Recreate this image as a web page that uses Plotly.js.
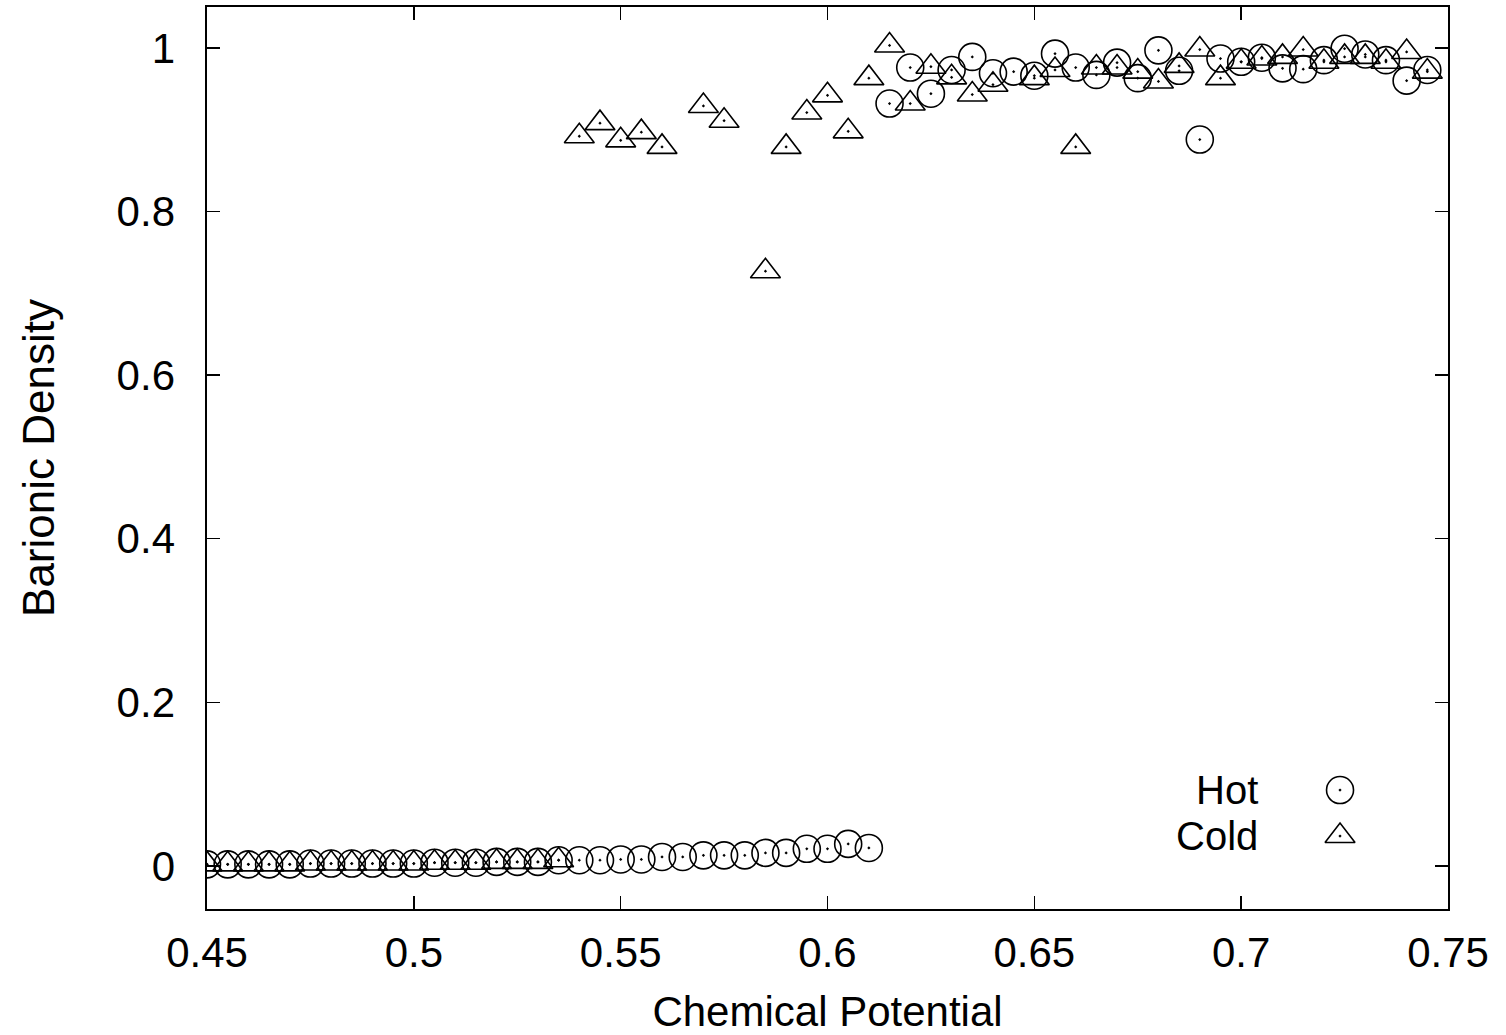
<!DOCTYPE html>
<html>
<head>
<meta charset="utf-8">
<script src="https://cdn.plot.ly/plotly-3.0.1.min.js"></script>
<style>html,body{margin:0;padding:0;background:#fff;}#chart{width:1506px;height:1035px;}</style>
</head>
<body>
<div id="chart"></div>
<script>
// Chemical potential values (x)
const hotX = [0.45,0.455,0.46,0.465,0.47,0.475,0.48,0.485,0.49,0.495,0.5,0.505,0.51,0.515,0.52,0.525,0.53,0.535,0.54,0.545,0.55,0.555,0.56,0.565,0.57,0.575,0.58,0.585,0.59,0.595,0.6,0.605,0.61,
  0.615,0.62,0.625,0.63,0.635,0.64,0.645,0.65,0.655,0.66,0.665,0.67,0.675,0.68,0.685,0.69,0.695,0.7,0.705,0.71,0.715,0.72,0.725,0.73,0.735,0.74,0.745];
const hotY = [0.002,0.002,0.002,0.002,0.002,0.003,0.003,0.003,0.003,0.003,0.003,0.004,0.004,0.004,0.005,0.005,0.005,0.007,0.007,0.007,0.008,0.008,0.011,0.011,0.013,0.013,0.013,0.016,0.016,0.021,0.021,0.027,0.022,
  0.932,0.976,0.944,0.973,0.989,0.969,0.971,0.966,0.993,0.976,0.967,0.982,0.963,0.997,0.972,0.888,0.987,0.983,0.988,0.975,0.974,0.985,0.999,0.992,0.985,0.960,0.973];

const coldX = [0.45,0.455,0.46,0.465,0.47,0.475,0.48,0.485,0.49,0.495,0.5,0.505,0.51,0.515,0.52,0.525,0.53,0.535,
  0.54,0.545,0.55,0.555,0.56,0.57,0.575,0.585,0.59,0.595,0.6,0.605,0.61,0.615,0.62,0.625,0.63,0.635,0.64,0.65,0.655,0.66,0.665,0.67,0.675,0.68,0.685,0.69,0.695,0.7,0.705,0.71,0.715,0.72,0.725,0.73,0.735,0.74,0.745];
const coldY = [0.002,0.002,0.002,0.002,0.002,0.003,0.003,0.003,0.003,0.003,0.003,0.004,0.004,0.004,0.005,0.005,0.005,0.007,
  0.892,0.908,0.887,0.897,0.879,0.929,0.911,0.727,0.879,0.921,0.942,0.898,0.963,1.003,0.932,0.977,0.964,0.943,0.955,0.963,0.973,0.879,0.976,0.976,0.971,0.959,0.978,0.998,0.963,0.983,0.987,0.989,0.998,0.983,0.989,0.989,0.983,0.995,0.971];

const xTickVals = [0.45,0.5,0.55,0.6,0.65,0.7,0.75];
const xTickText = ["0.45","0.5","0.55","0.6","0.65","0.7","0.75"];
const yTickVals = [0,0.2,0.4,0.6,0.8,1];
const yTickText = ["0","0.2","0.4","0.6","0.8","1"];

const seriesNames = ["Hot","Cold"];

const FONT = "Liberation Sans, Arial, Helvetica, sans-serif";
const markerLine = {color:"#000", width:1.6};

// legend key rows (paper fractions of the plot area)
const LEG_KEY_X = 0.913, LEG_TEXT_X = 0.848, LEG_HOT_Y = 0.1319, LEG_COLD_Y = 0.0809;

const traces = [
  {x: hotX, y: hotY, mode: "markers", type: "scatter", name: seriesNames[0], showlegend:false,
   marker: {symbol: "circle-open-dot", size: 27, color: "#000", line: markerLine}},
  {x: coldX, y: coldY, mode: "markers", type: "scatter", name: seriesNames[1], showlegend:false,
   marker: {symbol: "triangle-up-open-dot", size: 26, color: "#000", line: markerLine}},
  // legend keys on an overlay axis spanning the plot area
  {x: [LEG_KEY_X], y: [LEG_HOT_Y], xaxis: "x2", yaxis: "y2", mode: "markers", type: "scatter", showlegend:false, hoverinfo:"skip",
   marker: {symbol: "circle-open-dot", size: 27, color: "#000", line: markerLine}},
  {x: [LEG_KEY_X], y: [LEG_COLD_Y], xaxis: "x2", yaxis: "y2", mode: "markers", type: "scatter", showlegend:false, hoverinfo:"skip",
   marker: {symbol: "triangle-up-open-dot", size: 26, color: "#000", line: markerLine}}
];

const axisCommon = {
  showline: true, linecolor: "#000", linewidth: 1.6, mirror: "ticks",
  ticks: "inside", ticklen: 13, tickwidth: 1.5, tickcolor: "#000",
  showgrid: false, zeroline: false,
  tickfont: {family: FONT, size: 42, color: "#000"}
};

const layout = {
  width: 1506, height: 1035,
  margin: {l: 207, r: 58, t: 7, b: 126},
  paper_bgcolor: "#fff", plot_bgcolor: "#fff",
  font: {family: FONT, color: "#000"},
  xaxis: Object.assign({}, axisCommon, {
    range: [0.45, 0.75], tickmode: "array", tickvals: xTickVals, ticktext: xTickText,
    ticklabelstandoff: 6,
    title: {text: "Chemical Potential", font: {family: FONT, size: 42, color: "#000"}, standoff: 34}
  }),
  yaxis: Object.assign({}, axisCommon, {
    range: [-0.0526, 1.05], tickmode: "array", tickvals: yTickVals, ticktext: yTickText,
    ticklabelstandoff: 22,
    title: {text: "Barionic Density", font: {family: FONT, size: 44, color: "#000"}, standoff: 48}
  }),
  xaxis2: {overlaying: "x", range: [0,1], visible: false, fixedrange: true},
  yaxis2: {overlaying: "y", range: [0,1], visible: false, fixedrange: true},
  annotations: [
    {xref: "paper", yref: "paper", x: LEG_TEXT_X, y: LEG_HOT_Y, xanchor: "right", yanchor: "middle", showarrow: false,
     text: seriesNames[0], font: {family: FONT, size: 40, color: "#000"}, borderpad: 0},
    {xref: "paper", yref: "paper", x: LEG_TEXT_X, y: LEG_COLD_Y, xanchor: "right", yanchor: "middle", showarrow: false,
     text: seriesNames[1], font: {family: FONT, size: 40, color: "#000"}, borderpad: 0}
  ]
};

Plotly.newPlot("chart", traces, layout, {staticPlot: true, displayModeBar: false});
</script>
</body>
</html>
